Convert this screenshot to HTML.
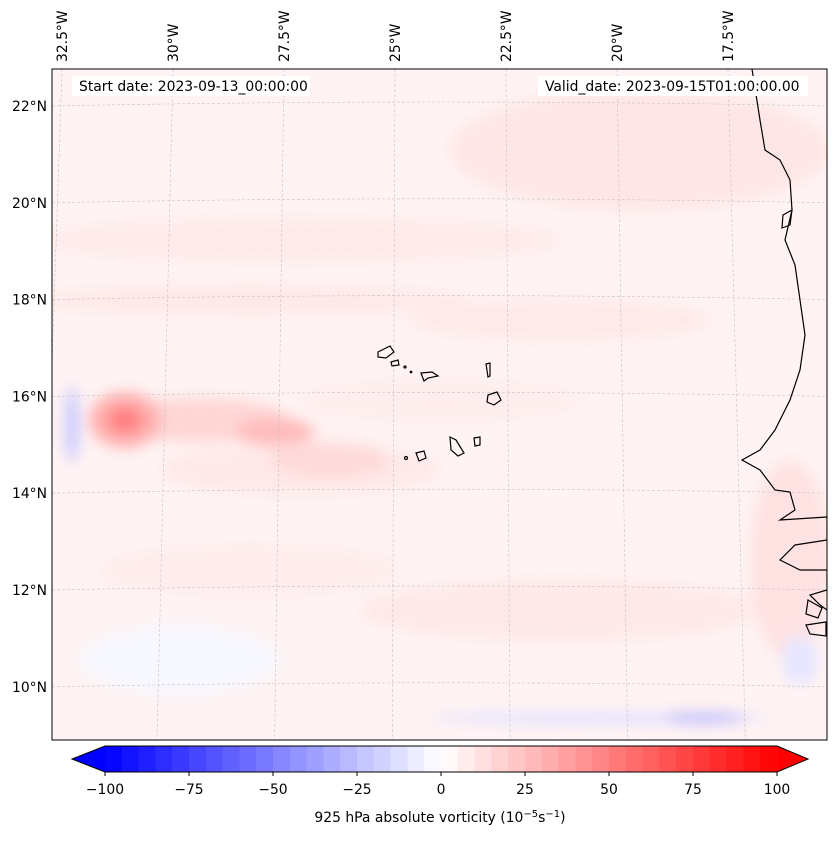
<!DOCTYPE html>
<html><head><meta charset="utf-8">
<style>
body{margin:0;background:#fff;font-family:"DejaVu Sans","Liberation Sans",sans-serif;}
svg text{font-family:"DejaVu Sans","Liberation Sans",sans-serif;}
</style></head>
<body>
<svg id="fig" width="837" height="839" viewBox="0 0 837 839" xmlns="http://www.w3.org/2000/svg">
<defs>
<filter id="b8" x="-50%" y="-50%" width="200%" height="200%"><feGaussianBlur stdDeviation="7"/></filter>
<clipPath id="clip"><rect x="52" y="69" width="775" height="671"/></clipPath>
</defs>
<g clip-path="url(#clip)">
<rect x="52" y="69" width="775" height="671" fill="#fff3f3"/>
<g filter="url(#b8)">
 <ellipse cx="640" cy="150" rx="190" ry="60" fill="#ffe6e6"/>
 <ellipse cx="300" cy="240" rx="260" ry="22" fill="#ffeaea"/>
 <ellipse cx="250" cy="300" rx="220" ry="14" fill="#ffe8e8"/>
 <ellipse cx="560" cy="320" rx="150" ry="20" fill="#ffe9e9"/>
 <ellipse cx="440" cy="400" rx="140" ry="20" fill="#ffeded"/>
 <ellipse cx="300" cy="470" rx="140" ry="24" fill="#ffe8e8"/>
 <ellipse cx="560" cy="610" rx="200" ry="30" fill="#ffe8e8"/>
 <ellipse cx="250" cy="570" rx="150" ry="25" fill="#ffecec"/>
 <ellipse cx="180" cy="660" rx="100" ry="35" fill="#f7f7ff"/>
 <ellipse cx="790" cy="560" rx="40" ry="100" fill="#ffe2e2"/>
 <ellipse cx="800" cy="660" rx="18" ry="25" fill="#e6e6ff"/>
 <ellipse cx="600" cy="718" rx="170" ry="6" fill="#e2e2ff"/>
 <ellipse cx="705" cy="718" rx="40" ry="5" fill="#b8b8ff"/>
 <ellipse cx="72" cy="425" rx="7" ry="38" fill="#c8c8ff"/>
 <ellipse cx="200" cy="420" rx="90" ry="22" fill="#ffd6d6"/>
 <ellipse cx="275" cy="432" rx="40" ry="14" fill="#ffbcbc"/>
 <ellipse cx="330" cy="460" rx="60" ry="18" fill="#ffdada"/>
 <ellipse cx="125" cy="420" rx="36" ry="28" fill="#ffb0b0"/>
 <ellipse cx="125" cy="420" rx="18" ry="13" fill="#ff7e7e"/>
</g>
<g stroke="#c4c4c4" stroke-width="0.6" stroke-dasharray="3,2" fill="none" id="grid"></g>
<g stroke="#000" stroke-width="1.2" fill="none">
 <path d="M752 69 L760 120 765 150 780 160 790 180 792 210 785 240 795 265 800 300 805 335 800 370 790 400 775 430 760 450 742 460 760 470 775 490 790 492 795 510 780 520 827 517 827 540 795 545 780 560 800 570 827 570 827 590 810 595 820 605 827 610"/>
 <path d="M783 215 L792 210 790 225 782 228Z"/>
 <path d="M808 600 L822 608 818 618 806 614Z"/>
 <path d="M806 625 L826 622 826 636 810 634Z"/>
 <path d="M378 352 L390 346 394 352 386 358 378 357Z"/>
 <path d="M391 362 L398 360 399 365 392 366Z"/>
 <circle cx="405" cy="367" r="1"/><circle cx="411" cy="372" r="0.8"/>
 <path d="M421 373 L432 372 438 376 428 378 424 381Z"/>
 <path d="M486 364 L490 363 490 376 488 377Z"/>
 <path d="M488 395 L497 392 501 400 494 405 487 402Z"/>
 <path d="M450 437 L456 440 464 453 458 456 451 450Z"/>
 <path d="M474 438 L480 437 480 445 475 446Z"/>
 <path d="M416 453 L424 451 426 458 419 461Z"/>
 <circle cx="406" cy="458" r="1.5"/>
</g>
<rect x="72" y="76" width="238" height="20" fill="#fff"/>
<text x="79" y="91" font-size="13.9">Start date: 2023-09-13_00:00:00</text>
<rect x="538" y="76" width="270" height="20" fill="#fff"/>
<text x="545" y="91" font-size="13.9">Valid_date: 2023-09-15T01:00:00.00</text>
</g>
<rect x="52" y="69" width="775" height="671" fill="none" stroke="#000" stroke-width="1"/>
<g id="latlabels" font-size="13.9"></g>
<g id="lonlabels" font-size="13.9"></g>
<g id="cbar"></g>
<text x="440" y="822" font-size="13.9" text-anchor="middle">925 hPa absolute vorticity (10<tspan font-size="10" dy="-5">−5</tspan><tspan dy="5">s</tspan><tspan font-size="10" dy="-5">−1</tspan><tspan dy="5">)</tspan></text>
</svg>
<script>
const latTicks=[22,20,18,16,14,12,10];
const lonTicks=[32.5,30,27.5,25,22.5,20,17.5];
const levels=[];for(let v=-100;v<=100;v+=5)levels.push(v);
const cbTicks=[-100,-75,-50,-25,0,25,50,75,100];
const NS="http://www.w3.org/2000/svg";
function mk(t,a,p){const e=document.createElementNS(NS,t);for(const k in a)e.setAttribute(k,a[k]);p.appendChild(e);return e;}
const yLat=l=>106+(22-l)*48.4;
const xLon=l=>62+(32.5-l)*44.4;
const grid=document.getElementById('grid');
latTicks.forEach(l=>{const y=yLat(l);
 const p=mk('path',{d:`M52 ${y} Q440 ${y-8} 827 ${y}`},grid);
 
 
 const t=mk('text',{x:47,y:y+5,'text-anchor':'end'},document.getElementById('latlabels'));t.textContent=l+'°N';
 
 });
lonTicks.forEach(l=>{const x=xLon(l);
 const p=mk('line',{x1:x,y1:69,x2:x+(x-440)*0.06,y2:740},grid);
 
 
 const t=mk('text',{transform:`translate(${x+5},62) rotate(-90)`},document.getElementById('lonlabels'));t.textContent=l+'°W';
 
 });
const cb=document.getElementById('cbar');
const x0=105,x1=777,yt=746,yb=772;const cx=v=>x0+(v+100)/200*(x1-x0);
function col(v){if(v<0){const t=Math.round((1+v/100)*255);return `rgb(${t},${t},255)`;}const t=Math.round((1-v/100)*255);return `rgb(255,${t},${t})`;}
for(let i=0;i<levels.length-1;i++){const a=levels[i],b=levels[i+1];
 const r=mk('rect',{x:cx(a),y:yt,width:cx(b)-cx(a)+0.5,height:yb-yt,fill:col((a+b)/2)},cb);
 
 }
const tl=mk('polygon',{points:`${x0},${yt} 72,${(yt+yb)/2} ${x0},${yb}`,fill:'#0000ff'},cb);


const tr=mk('polygon',{points:`${x1},${yt} 808,${(yt+yb)/2} ${x1},${yb}`,fill:'#ff0000'},cb);


mk('polygon',{points:`${x0},${yt} ${x1},${yt} 808,${(yt+yb)/2} ${x1},${yb} ${x0},${yb} 72,${(yt+yb)/2}`,fill:'none',stroke:'#000','stroke-width':1},cb);
cbTicks.forEach(v=>{const x=cx(v);mk('line',{x1:x,y1:yb,x2:x,y2:yb+4,stroke:'#000'},cb);
 const t=mk('text',{x:x,y:yb+22,'text-anchor':'middle','font-size':13.9},cb);t.textContent=v<0?'−'+(-v):String(v);
 
 });
</script>
</body></html>
